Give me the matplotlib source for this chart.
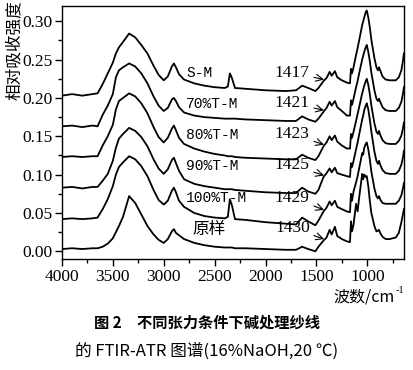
import numpy as np
import matplotlib
matplotlib.use("Agg")
from matplotlib import pyplot as plt
from matplotlib.ticker import MultipleLocator

plt.rcParams["font.family"] = "Liberation Serif"

# wavenumber grid (cm-1)
wavenumber = [4000, 3900, 3800, 3700, 3650, 3600, 3550, 3500, 3470, 3440,
              3400, 3340, 3280, 3220, 3160, 3100, 3050, 3000, 2960, 2920,
              2900, 2880, 2850, 2800, 2700, 2600, 2500, 2400, 2370, 2350,
              2330, 2300, 2200, 2000, 1800, 1700, 1640, 1580, 1510, 1480,
              1430, 1400, 1370, 1350, 1318, 1295, 1250, 1200, 1170, 1160,
              1150, 1135, 1110, 1095, 1080, 1050, 1040, 1030, 1015, 1005,
              990, 975, 960, 930, 910, 895, 885, 870, 850, 820,
              780, 720, 690, 665, 650, 640]

s_m = [0.203, 0.205, 0.203, 0.205, 0.206, 0.218, 0.232, 0.246, 0.258, 0.266,
       0.273, 0.284, 0.279, 0.269, 0.258, 0.242, 0.230, 0.223, 0.228, 0.241,
       0.245, 0.240, 0.231, 0.224, 0.219, 0.216, 0.214, 0.213, 0.215, 0.232,
       0.226, 0.213, 0.212, 0.210, 0.209, 0.210, 0.216, 0.213, 0.209, 0.213,
       0.222, 0.226, 0.234, 0.229, 0.235, 0.227, 0.223, 0.220, 0.219, 0.238,
       0.232, 0.240, 0.256, 0.265, 0.275, 0.295, 0.300, 0.305, 0.312, 0.314,
       0.305, 0.292, 0.276, 0.252, 0.240, 0.236, 0.240, 0.235, 0.228, 0.224,
       0.223, 0.223, 0.227, 0.236, 0.248, 0.258]

t70 = [0.163, 0.164, 0.162, 0.164, 0.163, 0.178, 0.190, 0.205, 0.227, 0.236,
       0.240, 0.245, 0.241, 0.232, 0.219, 0.202, 0.190, 0.183, 0.187, 0.198,
       0.200, 0.196, 0.188, 0.181, 0.177, 0.175, 0.174, 0.173, 0.173, 0.173,
       0.173, 0.173, 0.172, 0.171, 0.170, 0.170, 0.176, 0.172, 0.169, 0.173,
       0.182, 0.187, 0.195, 0.190, 0.196, 0.188, 0.183, 0.177, 0.177, 0.197,
       0.191, 0.199, 0.214, 0.222, 0.232, 0.250, 0.255, 0.260, 0.266, 0.269,
       0.260, 0.248, 0.233, 0.210, 0.199, 0.196, 0.199, 0.194, 0.188, 0.184,
       0.183, 0.183, 0.187, 0.195, 0.205, 0.214]

t80 = [0.123, 0.124, 0.123, 0.124, 0.124, 0.138, 0.150, 0.165, 0.185, 0.196,
       0.200, 0.206, 0.202, 0.193, 0.180, 0.162, 0.149, 0.142, 0.148, 0.160,
       0.164, 0.158, 0.148, 0.140, 0.134, 0.130, 0.127, 0.125, 0.124, 0.124,
       0.124, 0.123, 0.122, 0.121, 0.120, 0.120, 0.126, 0.122, 0.119, 0.124,
       0.137, 0.142, 0.150, 0.145, 0.151, 0.143, 0.138, 0.134, 0.134, 0.153,
       0.148, 0.156, 0.170, 0.179, 0.188, 0.206, 0.211, 0.216, 0.222, 0.225,
       0.217, 0.205, 0.190, 0.167, 0.156, 0.153, 0.157, 0.151, 0.145, 0.141,
       0.140, 0.140, 0.144, 0.151, 0.160, 0.168]

t90 = [0.083, 0.084, 0.082, 0.084, 0.084, 0.092, 0.101, 0.118, 0.135, 0.147,
       0.153, 0.161, 0.157, 0.149, 0.137, 0.120, 0.108, 0.101, 0.107, 0.119,
       0.122, 0.115, 0.105, 0.094, 0.088, 0.085, 0.083, 0.081, 0.081, 0.081,
       0.081, 0.080, 0.079, 0.077, 0.076, 0.076, 0.083, 0.078, 0.075, 0.080,
       0.097, 0.102, 0.108, 0.103, 0.109, 0.102, 0.100, 0.098, 0.097, 0.115,
       0.110, 0.118, 0.133, 0.142, 0.152, 0.172, 0.177, 0.184, 0.190, 0.193,
       0.185, 0.172, 0.156, 0.130, 0.118, 0.114, 0.118, 0.112, 0.106, 0.102,
       0.101, 0.101, 0.105, 0.113, 0.122, 0.131]

t100 = [0.042, 0.043, 0.042, 0.043, 0.044, 0.055, 0.068, 0.085, 0.100, 0.110,
        0.116, 0.124, 0.120, 0.111, 0.098, 0.080, 0.067, 0.061, 0.066, 0.079,
        0.083, 0.077, 0.066, 0.058, 0.050, 0.046, 0.044, 0.043, 0.045, 0.068,
        0.060, 0.042, 0.041, 0.038, 0.036, 0.035, 0.044, 0.039, 0.034, 0.040,
        0.052, 0.057, 0.065, 0.060, 0.066, 0.058, 0.055, 0.052, 0.051, 0.075,
        0.066, 0.078, 0.090, 0.098, 0.108, 0.128, 0.126, 0.135, 0.140, 0.142,
        0.133, 0.120, 0.104, 0.082, 0.072, 0.069, 0.072, 0.067, 0.063, 0.062,
        0.062, 0.062, 0.066, 0.073, 0.082, 0.089]

raw = [0.003, 0.004, 0.003, 0.004, 0.004, 0.006, 0.010, 0.017, 0.025, 0.033,
       0.045, 0.072, 0.063, 0.048, 0.033, 0.022, 0.015, 0.011, 0.016, 0.026,
       0.029, 0.024, 0.021, 0.016, 0.011, 0.008, 0.006, 0.005, 0.005, 0.005,
       0.005, 0.004, 0.004, 0.003, 0.002, 0.002, 0.006, 0.003, 0.000, 0.006,
       0.014, 0.018, 0.028, 0.022, 0.032, 0.020, 0.016, 0.013, 0.012, 0.039,
       0.026, 0.035, 0.062, 0.052, 0.070, 0.101, 0.094, 0.100, 0.097, 0.098,
       0.085, 0.066, 0.050, 0.033, 0.026, 0.027, 0.028, 0.023, 0.019, 0.016,
       0.016, 0.018, 0.024, 0.038, 0.048, 0.055]

series = [s_m, t70, t80, t90, t100, raw]
names = ["S-M", "70%T-M", "80%T-M", "90%T-M", "100%T-M", "原样"]
band_labels = ["1417", "1421", "1423", "1425", "1429", "1430"]

cjk = ["Noto Sans CJK SC", "DejaVu Sans"]

fig = plt.figure(figsize=(4.13, 3.70), dpi=100)
ax = fig.add_axes([0.150, 0.300, 0.828, 0.684])

wn = np.array(wavenumber)
for s in series:
    ax.plot(wn, s, color="black", lw=1.3)

ax.set_xlim(4000, 640)
ax.set_ylim(-0.01, 0.32)
ax.xaxis.set_major_locator(MultipleLocator(500))
ax.xaxis.set_minor_locator(MultipleLocator(250))
ax.yaxis.set_major_locator(MultipleLocator(0.05))
ax.yaxis.set_minor_locator(MultipleLocator(0.025))
ax.yaxis.set_major_formatter(plt.FormatStrFormatter("%.2f"))
ax.tick_params(which="major", direction="out", length=5, width=1,
               labelsize=12.5, pad=2)
ax.tick_params(which="minor", direction="out", length=3, width=1)
for sp in ax.spines.values():
    sp.set_linewidth(1.0)

# sample names (left) and band positions with arrows (right)
name_y = [0.232, 0.192, 0.152, 0.111, 0.069, 0.029]
for i, (nm, lab) in enumerate(zip(names, band_labels)):
    if nm == "原样":
        ax.text(2720, name_y[i], nm, ha="left", va="center", fontsize=12,
                family=cjk)
    else:
        ax.text(2780, name_y[i], nm, ha="left", va="center", fontsize=10.5,
                family="Liberation Mono")
    yc = series[i][wavenumber.index(1430)]
    ax.annotate(lab, xy=(1425, yc + 0.002), xytext=(1565, name_y[i] + 0.001),
                ha="right", va="center", fontsize=12.5,
                arrowprops=dict(arrowstyle="->", lw=0.8, color="black",
                                shrinkA=1, shrinkB=0))

fig.text(0.034, 0.865, "相对吸收强度", rotation=90, ha="center", va="center",
         fontsize=12, family=cjk)
fig.text(0.955, 0.198, "波数/cm", ha="right", va="center", fontsize=11.5,
         family=cjk)
fig.text(0.957, 0.216, "-1", ha="left", va="center", fontsize=7.5)

fig.text(0.5, 0.128, "图 2　不同张力条件下碱处理纱线", ha="center", va="center",
         fontsize=11, fontweight="bold", family=cjk)
fig.text(0.5, 0.050, "的 FTIR-ATR 图谱(16%NaOH,20 ℃)", ha="center", va="center",
         fontsize=12, family=cjk)

fig.savefig("out.png", dpi=100)
